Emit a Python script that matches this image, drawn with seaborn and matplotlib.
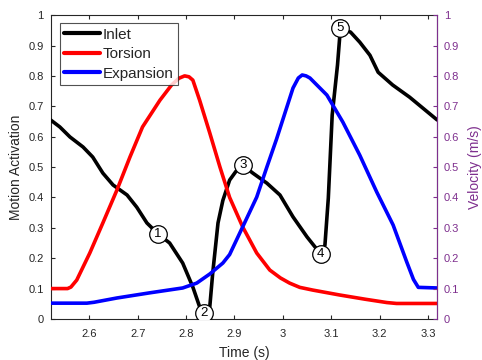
import numpy as np
import pandas as pd
import matplotlib
matplotlib.use("Agg")
import matplotlib.pyplot as plt
import seaborn as sns

sns.set_theme(style="white")
plt.rcParams['font.family'] = ['Liberation Sans', 'DejaVu Sans']

# ---- data ----
inlet_t = [2.52, 2.539, 2.560, 2.587, 2.607, 2.628, 2.649, 2.678, 2.698, 2.719, 2.742,
           2.766, 2.793, 2.814, 2.828, 2.837, 2.849, 2.855, 2.866, 2.876, 2.890, 2.905,
           2.917, 2.938, 2.967, 2.994, 3.021, 3.050, 3.078, 3.087, 3.094, 3.102, 3.113,
           3.119, 3.140, 3.159, 3.180, 3.197, 3.227, 3.262, 3.319]
inlet_v = [0.655, 0.632, 0.599, 0.566, 0.533, 0.48, 0.441, 0.408, 0.368, 0.316, 0.28,
           0.25, 0.184, 0.105, 0.04, 0.02, 0.04, 0.15, 0.316, 0.39, 0.457, 0.49,
           0.506, 0.48, 0.447, 0.408, 0.336, 0.27, 0.214, 0.243, 0.398, 0.671, 0.836,
           0.957, 0.944, 0.911, 0.868, 0.812, 0.77, 0.73, 0.655]

torsion_t = [2.52, 2.555, 2.562, 2.574, 2.601, 2.628, 2.657, 2.684, 2.710, 2.746, 2.770,
             2.785, 2.797, 2.806, 2.814, 2.828, 2.849, 2.870, 2.890, 2.917, 2.946, 2.973,
             2.995, 3.014, 3.035, 3.062, 3.117, 3.170, 3.215, 3.235, 3.319]
torsion_v = [0.10, 0.10, 0.105, 0.128, 0.217, 0.316, 0.424, 0.533, 0.632, 0.72, 0.77,
             0.792, 0.80, 0.797, 0.786, 0.72, 0.612, 0.50, 0.40, 0.303, 0.217, 0.161,
             0.135, 0.118, 0.104, 0.095, 0.079, 0.065, 0.054, 0.051, 0.051]

expansion_t = [2.52, 2.595, 2.610, 2.657, 2.725, 2.793, 2.822, 2.849, 2.876, 2.890, 2.917,
               2.946, 2.967, 2.987, 3.021, 3.032, 3.040, 3.048, 3.056, 3.091, 3.124, 3.159,
               3.194, 3.228, 3.256, 3.270, 3.280, 3.319]
expansion_v = [0.052, 0.052, 0.055, 0.069, 0.086, 0.102, 0.118, 0.148, 0.184, 0.212, 0.303,
               0.401, 0.50, 0.592, 0.76, 0.793, 0.803, 0.800, 0.793, 0.737, 0.648, 0.539,
               0.418, 0.309, 0.188, 0.13, 0.104, 0.102]

marker_labels = ["1", "2", "3", "4", "5"]
marker_t = [2.742, 2.837, 2.917, 3.078, 3.119]
marker_v = [0.28, 0.02, 0.506, 0.214, 0.957]

xticks = [2.6, 2.7, 2.8, 2.9, 3.0, 3.1, 3.2, 3.3]
xtick_labels = ["2.6", "2.7", "2.8", "2.9", "3", "3.1", "3.2", "3.3"]
yticks = [0, 0.1, 0.2, 0.3, 0.4, 0.5, 0.6, 0.7, 0.8, 0.9, 1]
ytick_labels = ["0", "0.1", "0.2", "0.3", "0.4", "0.5", "0.6", "0.7", "0.8", "0.9", "1"]

dark = "#262626"
purple = "#7E2F8E"

fig = plt.figure(figsize=(4.82, 3.6), dpi=100)
ax = fig.add_axes([0.105, 0.114, 0.802, 0.844])

df = pd.concat([
    pd.DataFrame({"t": inlet_t, "v": inlet_v, "s": "Inlet"}),
    pd.DataFrame({"t": torsion_t, "v": torsion_v, "s": "Torsion"}),
    pd.DataFrame({"t": expansion_t, "v": expansion_v, "s": "Expansion"}),
])
sns.lineplot(data=df, x="t", y="v", hue="s", sort=False, estimator=None,
             palette={"Inlet": "black", "Torsion": "#ff0000", "Expansion": "#0000ff"},
             hue_order=["Inlet", "Torsion", "Expansion"], lw=2.6, ax=ax, zorder=3,
             solid_joinstyle="round", solid_capstyle="round")

for lab, t, v in zip(marker_labels, marker_t, marker_v):
    ax.scatter([t], [v], s=160, facecolor="white", edgecolor="black", linewidth=0.9, zorder=5)
    ax.text(t, v, lab, ha="center", va="center", fontsize=9.5, color="black", zorder=6)

ax.set_xlim(2.52, 3.319)
ax.set_ylim(0, 1)
ax.set_xticks(xticks)
ax.set_xticklabels(xtick_labels)
ax.set_yticks(yticks)
ax.set_yticklabels(ytick_labels)
ax.tick_params(direction="in", length=3, width=0.8, colors=dark, labelsize=8,
               top=True, bottom=True, left=True, right=False, pad=5)
ax.tick_params(axis="x", pad=7)
ax.set_xlabel("Time (s)", fontsize=10, color=dark, labelpad=5)
ax.set_ylabel("Motion Activation", fontsize=10, color=dark, labelpad=4)
for sp in ax.spines.values():
    sp.set_color(dark)
    sp.set_linewidth(0.8)

leg = ax.legend(loc="upper left", fontsize=11, frameon=True, fancybox=False,
                handlelength=2.3, borderpad=0.32, labelspacing=0.36, handletextpad=0.2,
                borderaxespad=0.0, bbox_to_anchor=(0.023, 0.975))
leg.get_frame().set_edgecolor(dark)
leg.get_frame().set_linewidth(0.8)
for h in leg.get_lines():
    h.set_linewidth(3)

ax2 = ax.twinx()
ax2.set_ylim(0, 1)
ax2.set_yticks(yticks)
ax2.set_yticklabels(ytick_labels)
ax2.tick_params(axis="y", direction="in", length=3, width=0.8, colors=purple, labelsize=8, pad=5)
ax2.spines["right"].set_color(purple)
ax2.spines["right"].set_linewidth(0.8)
ax2.spines["top"].set_visible(False)
ax2.spines["left"].set_visible(False)
ax2.spines["bottom"].set_visible(False)
ax2.set_ylabel("Velocity (m/s)", fontsize=10, color=purple, labelpad=6)
ax2.grid(False)

fig.savefig("out.png", dpi=100)
